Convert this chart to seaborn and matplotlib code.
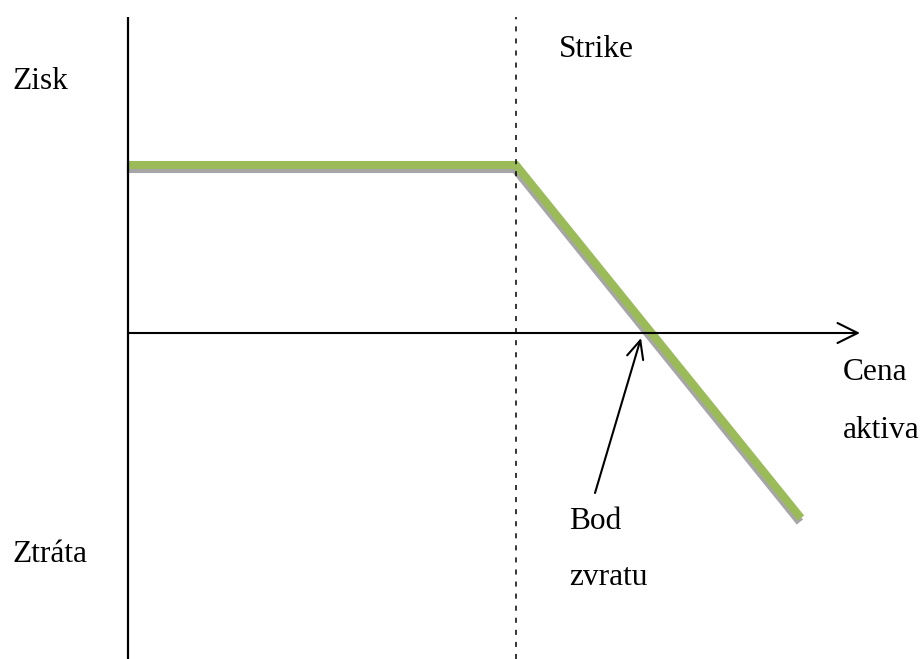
import numpy as np
import pandas as pd
import seaborn as sns
import matplotlib.pyplot as plt
import matplotlib.patheffects as pe

# short put payoff, origin of the axes = (0, 0)
price = [0, 388, 673]
profit = [168, 168, -185]
strike = 388
breakeven = 524

labels_left = ["Zisk", "Ztráta"]
label_strike = "Strike"
label_price = ["Cena", "aktiva"]
label_be = ["Bod", "zvratu"]

sns.set_style("white")
plt.rcParams['font.family'] = ['Liberation Serif', 'DejaVu Serif']
plt.rcParams['text.color'] = 'black'

fig = plt.figure(figsize=(9.22, 6.59), dpi=100)
ax = fig.add_axes([0, 0, 1, 1])
ax.set_xlim(-128, 794)
ax.set_ylim(-326, 333)
ax.axis("off")

df = pd.DataFrame({"price": price, "profit": profit})
sns.lineplot(data=df, x="price", y="profit", ax=ax, color="#9bbb59", lw=5.8,
             sort=False, solid_capstyle="butt", solid_joinstyle="miter",
             path_effects=[pe.SimpleLineShadow(offset=(-0.8, -2.9), shadow_color="#a6a6a6", alpha=1),
                           pe.Normal()])

# axes
ax.plot([0, 0], [-326, 316], color="black", lw=1.6, solid_capstyle="butt")
ax.annotate("", xy=(732, 0), xytext=(0, 0),
            arrowprops=dict(arrowstyle="->,head_length=1.45,head_width=0.72",
                            lw=1.5, color="black", shrinkA=0, shrinkB=0, mutation_scale=10))
ax.plot([strike, strike], [-326, 316], color="black", lw=1.1, ls=(0, (3.3, 4.6)))

# pointer to break-even
ax.annotate("", xy=(breakeven - 11, -5), xytext=(467, -160),
            arrowprops=dict(arrowstyle="->,head_length=1.3,head_width=0.6",
                            lw=1.5, color="black", shrinkA=0, shrinkB=0, mutation_scale=10))

fs = 22.6
ax.text(-116, 244, labels_left[0], fontsize=fs, va="baseline", color="black")
ax.text(-116, -229, labels_left[1], fontsize=fs, va="baseline", color="black")
ax.text(431, 276, label_strike, fontsize=fs, va="baseline", color="black")
ax.text(715, -47, label_price[0], fontsize=fs, va="baseline", color="black")
ax.text(715, -105, label_price[1], fontsize=fs, va="baseline", color="black")
ax.text(441, -196, label_be[0], fontsize=fs, va="baseline", color="black")
ax.text(441, -252, label_be[1], fontsize=fs, va="baseline", color="black")

fig.savefig("out.png", dpi=100)
